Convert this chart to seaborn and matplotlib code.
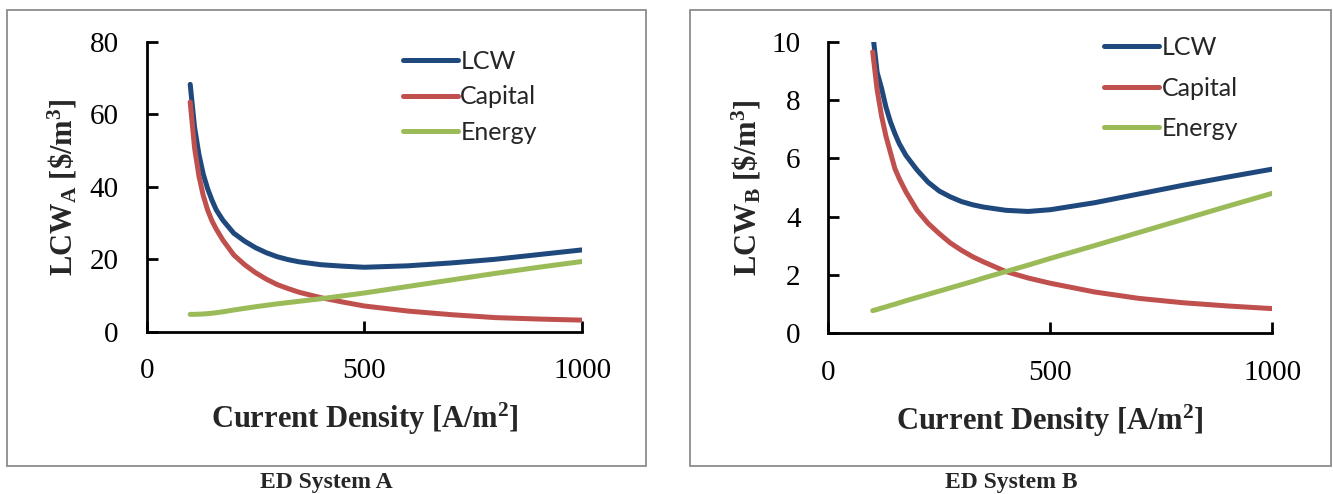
import matplotlib
matplotlib.use("Agg")
import matplotlib.pyplot as plt
import seaborn as sns
import pandas as pd
from matplotlib.patches import Rectangle

# current density [A/m2]
current_density = [100, 110, 120, 130, 140, 150, 160, 175, 200, 225, 250, 275,
                   300, 325, 350, 400, 450, 500, 600, 700, 800, 900, 1000]

# ED system A  [$/m3]
lcw_a = [68.3, 56.5, 49.0, 43.5, 39.5, 36.3, 33.6, 30.8, 27.2, 25.0, 23.2, 21.8,
         20.7, 19.9, 19.3, 18.5, 18.1, 17.8, 18.2, 19.0, 20.0, 21.3, 22.6]
capital_a = [63.4, 50.8, 43.0, 37.6, 33.6, 30.6, 28.3, 25.3, 21.2, 18.5, 16.3, 14.5,
             13.0, 11.9, 10.9, 9.4, 8.2, 7.1, 5.7, 4.7, 3.9, 3.5, 3.2]
energy_a = [4.8, 4.8, 4.85, 4.9, 5.0, 5.1, 5.25, 5.5, 6.0, 6.45, 6.9, 7.3,
            7.7, 8.05, 8.4, 9.1, 9.9, 10.7, 12.5, 14.3, 16.1, 17.8, 19.4]

# ED system B  [$/m3]
lcw_b = [10.3, 8.95, 8.4, 7.75, 7.25, 6.85, 6.5, 6.1, 5.6, 5.18, 4.88, 4.68,
         4.52, 4.41, 4.33, 4.22, 4.18, 4.24, 4.48, 4.78, 5.08, 5.36, 5.63]
capital_b = [9.65, 8.35, 7.45, 6.75, 6.2, 5.65, 5.3, 4.85, 4.22, 3.77, 3.42, 3.1,
             2.85, 2.63, 2.45, 2.12, 1.9, 1.72, 1.42, 1.2, 1.05, 0.94, 0.85]
energy_b = [0.78, 0.82, 0.87, 0.91, 0.96, 1.0, 1.05, 1.12, 1.23, 1.34, 1.45, 1.56,
            1.67, 1.78, 1.9, 2.12, 2.34, 2.57, 3.01, 3.46, 3.91, 4.36, 4.8]

series_names = ["LCW", "Capital", "Energy"]
colors = ["#1F497D", "#C0504D", "#9BBB59"]

sns.set_theme(style="white")
plt.rcParams["font.family"] = ["Liberation Serif", "DejaVu Serif"]
plt.rcParams["mathtext.fontset"] = "custom"
plt.rcParams["mathtext.rm"] = "Liberation Serif"
plt.rcParams["mathtext.bf"] = "Liberation Serif:bold"
plt.rcParams["mathtext.it"] = "Liberation Serif:italic"
plt.rcParams["xtick.direction"] = "in"
plt.rcParams["ytick.direction"] = "in"

fig = plt.figure(figsize=(13.33, 4.94), dpi=100)

panels = [
    dict(rect=[0.110, 0.3285, 0.3268, 0.5865], data=[lcw_a, capital_a, energy_a],
         ylim=(0, 80), yticks=[0, 20, 40, 60, 80], sub="A", caption="ED System A",
         cap_x=0.245, box=(7, 10, 639, 456), leg=(0.588, 0.973), spacing=0.5,
         ylab_x=-0.155),
    dict(rect=[0.6214, 0.3251, 0.3329, 0.5905], data=[lcw_b, capital_b, energy_b],
         ylim=(0, 10), yticks=[0, 2, 4, 6, 8, 10], sub="B", caption="ED System B",
         cap_x=0.759, box=(690, 10, 641, 456), leg=(0.621, 1.019), spacing=0.7,
         ylab_x=-0.146),
]

for p in panels:
    # chart area border (Excel-style)
    x0, y0, w, h = p["box"]
    fig.patches.append(Rectangle((x0 / 1333, 1 - (y0 + h) / 494), w / 1333, h / 494,
                                 transform=fig.transFigure, fill=False,
                                 edgecolor="#8c8c8c", lw=1.3))

    ax = fig.add_axes(p["rect"])
    df = pd.DataFrame({"x": current_density})
    for name, vals, c in zip(series_names, p["data"], colors):
        df[name] = vals
        sns.lineplot(data=df, x="x", y=name, ax=ax, color=c, lw=3.6,
                     label=name, solid_capstyle="round", solid_joinstyle="round")

    ax.set_xlim(0, 1000)
    ax.set_ylim(*p["ylim"])
    ax.set_xticks([0, 500, 1000])
    ax.set_yticks(p["yticks"])
    for s in ["top", "right"]:
        ax.spines[s].set_visible(False)
    for s in ["left", "bottom"]:
        ax.spines[s].set_color("black")
        ax.spines[s].set_linewidth(2)
    ax.tick_params(direction="in", length=8, width=2, labelsize=21,
                   colors="black", pad=20, bottom=True, left=True)
    ax.tick_params(axis="x", pad=19)

    ax.set_xlabel("Current Density [A/m$^\\mathbf{2}$]", fontsize=22,
                  fontweight="bold", labelpad=12)
    ax.set_ylabel("LCW$_\\mathbf{%s}$ [\\$/m$^\\mathbf{3}$]" % p["sub"],
                  fontsize=22, fontweight="bold")
    ax.yaxis.set_label_coords(p["ylab_x"], 0.5)

    ax.legend(loc="upper left", bbox_to_anchor=p["leg"], frameon=False,
              prop={"family": "Lato", "size": 18}, handlelength=2.2,
              handletextpad=0.1, labelspacing=p["spacing"], borderaxespad=0,
              borderpad=0)

    fig.text(p["cap_x"], 0.024, p["caption"], ha="center", va="center",
             fontsize=17, fontweight="bold")

fig.savefig("out.png", dpi=100)
